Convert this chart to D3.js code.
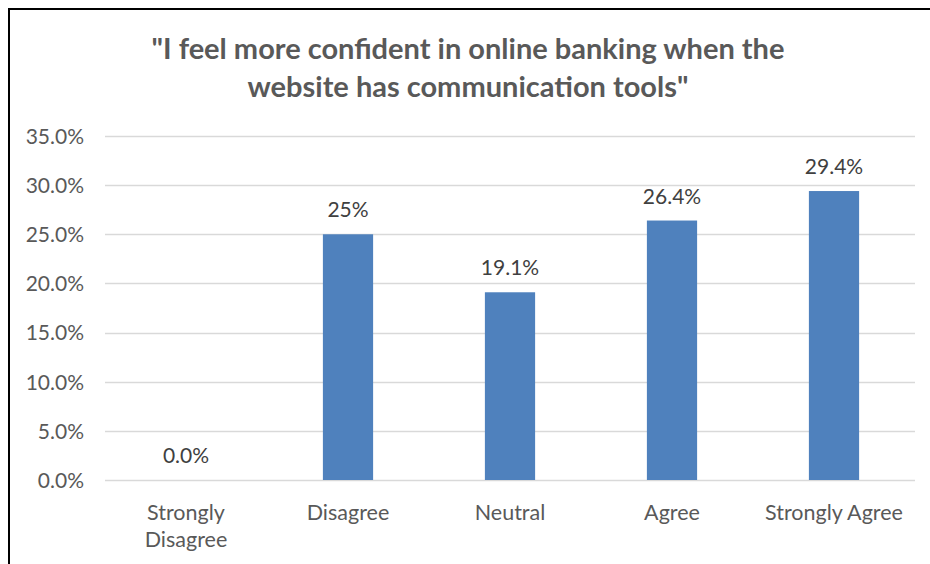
<!DOCTYPE html>
<html>
<head>
<meta charset="utf-8">
<script src="https://cdn.jsdelivr.net/npm/d3@7"></script>
<style>
  html, body { margin: 0; padding: 0; background: #fff; }
  svg text { font-family: Lato, "Open Sans", "Liberation Sans", sans-serif; }
</style>
</head>
<body>
<svg id="chart" width="930" height="564"></svg>
<script>
// Survey responses
const categories = [["Strongly", "Disagree"], ["Disagree"], ["Neutral"], ["Agree"], ["Strongly Agree"]];
const values = [0, 25, 19.1, 26.4, 29.4];
const valueLabels = ["0.0%", "25%", "19.1%", "26.4%", "29.4%"];
const yTicks = [0, 5, 10, 15, 20, 25, 30, 35];
const titleLines = ["\"I feel more confident in online banking when the", "website has communication tools\""];

const svg = d3.select("#chart");

// frame lines on the top and left edges
svg.append("line").attr("x1", 9).attr("x2", 930).attr("y1", 9).attr("y2", 9)
  .attr("stroke", "#000").attr("stroke-width", 2);
svg.append("line").attr("x1", 9).attr("x2", 9).attr("y1", 8).attr("y2", 564)
  .attr("stroke", "#000").attr("stroke-width", 2);

const plot = { left: 105, right: 915, top: 136, bottom: 480 };

const x = d3.scaleBand()
  .domain(d3.range(categories.length))
  .range([plot.left, plot.right])
  .paddingInner(0.69)
  .paddingOuter(0.345);

const y = d3.scaleLinear().domain([0, 35]).range([plot.bottom, plot.top]);

// title
svg.append("g").selectAll("text").data(titleLines).join("text")
  .attr("x", 468)
  .attr("y", (d, i) => 59 + i * 38)
  .attr("text-anchor", "middle")
  .attr("font-size", 29)
  .attr("font-weight", "bold")
  .attr("fill", "#595959")
  .text(d => d);

// gridlines
svg.append("g").selectAll("line").data(yTicks).join("line")
  .attr("x1", plot.left).attr("x2", plot.right)
  .attr("y1", d => Math.round(y(d)) + 0.5).attr("y2", d => Math.round(y(d)) + 0.5)
  .attr("stroke", "#d9d9d9").attr("stroke-width", 1.3);

// y axis labels
const yAxis = d3.axisLeft(y).tickValues(yTicks).tickFormat(d => d.toFixed(1) + "%").tickSize(0).tickPadding(0);
const gy = svg.append("g").attr("transform", `translate(${84},0)`).call(yAxis);
gy.select(".domain").remove();
gy.selectAll("text").attr("font-size", 21).attr("fill", "#595959").attr("font-family", null)
  .attr("dy", "0.35em");

// bars
svg.append("g").selectAll("rect").data(values).join("rect")
  .attr("x", (d, i) => x(i))
  .attr("width", x.bandwidth())
  .attr("y", d => y(d))
  .attr("height", d => y(0) - y(d))
  .attr("fill", "#4f81bd");

// value labels
svg.append("g").selectAll("text").data(values).join("text")
  .attr("x", (d, i) => x(i) + x.bandwidth() / 2)
  .attr("y", d => y(d) - 17)
  .attr("text-anchor", "middle")
  .attr("font-size", 21)
  .attr("fill", "#404040")
  .text((d, i) => valueLabels[i]);

// category labels
const cat = svg.append("g").selectAll("text").data(categories).join("text")
  .attr("x", (d, i) => x(i) + x.bandwidth() / 2)
  .attr("y", 520)
  .attr("text-anchor", "middle")
  .attr("font-size", 21.5)
  .attr("fill", "#595959");
cat.selectAll("tspan").data(d => d).join("tspan")
  .attr("x", function () { return d3.select(this.parentNode).attr("x"); })
  .attr("dy", (d, i) => i === 0 ? 0 : 27)
  .text(d => d);
</script>
</body>
</html>
